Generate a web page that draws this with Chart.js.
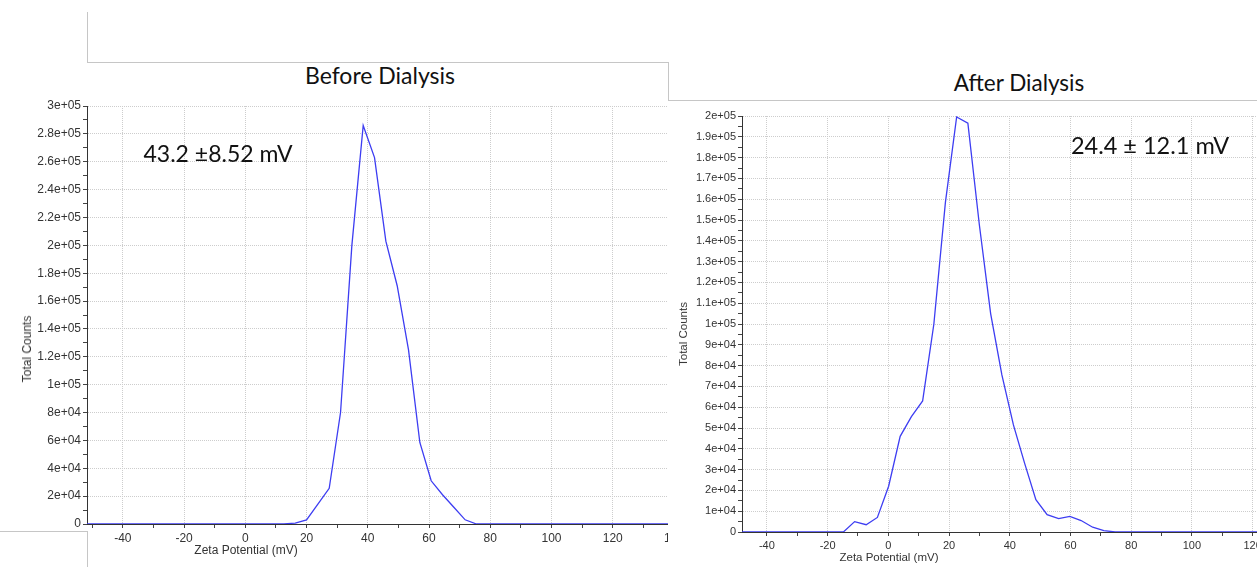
<!DOCTYPE html>
<html>
<head>
<meta charset="utf-8">
<script src="https://cdn.jsdelivr.net/npm/chart.js@4.4.1/dist/chart.umd.min.js"></script>
<style>
  html, body { margin: 0; padding: 0; background: #fff; }
  body { position: relative; width: 1257px; height: 567px; overflow: hidden; font-family: 'Liberation Sans', Arial, sans-serif; }
  .wrap { position: absolute; overflow: hidden; }
  canvas { position: absolute; }
  .rule { position: absolute; background: #c6c6c6; }
  .big { position: absolute; font-family: Lato, 'Open Sans', sans-serif; color: #111; white-space: nowrap; transform: translate(-50%, -50%); }
  .axis-title { position: absolute; color: #333; white-space: nowrap; transform: translate(-50%, -50%); }
  .axis-title.vert { transform: translate(-50%, -50%) rotate(-90deg); }
</style>
</head>
<body>

<!-- frame lines around the two pasted plots -->
<div class="rule" style="left:87px; top:12px; width:1px; height:51px;"></div>
<div class="rule" style="left:87px; top:62px; width:581px; height:1px;"></div>
<div class="rule" style="left:668px; top:62px; width:1px; height:39px;"></div>
<div class="rule" style="left:668px; top:100px; width:589px; height:1px;"></div>
<div class="rule" style="left:0px; top:531px; width:88px; height:1px;"></div>
<div class="rule" style="left:87px; top:531px; width:1px; height:36px;"></div>

<div class="wrap" style="left:0; top:0; width:668px; height:567px;">
  <canvas id="beforeChart" width="700" height="477" style="left:0; top:90px;"></canvas>
</div>
<canvas id="afterChart" width="620" height="467" style="left:668px; top:100px;"></canvas>

<div class="big" style="left:380px; top:75px; font-size:23px;">Before Dialysis</div>
<div class="big" style="left:1019px; top:82px; font-size:22.5px;">After Dialysis</div>
<div class="big" style="left:218px; top:153px; font-size:23px;">43.2 ±8.52 mV</div>
<div class="big" style="left:1150px; top:145px; font-size:23.5px;">24.4 ± 12.1 mV</div>

<div class="axis-title vert" style="left:27px; top:349px; font-size:12px;">Total Counts</div>
<div class="axis-title" style="left:246px; top:550px; font-size:12px;">Zeta Potential (mV)</div>
<div class="axis-title vert" style="left:683px; top:334px; font-size:11.5px;">Total Counts</div>
<div class="axis-title" style="left:889px; top:557px; font-size:11.5px;">Zeta Potential (mV)</div>

<script>
// Before dialysis: zeta potential (mV) vs total counts
const beforeMv = [-51.7, 12.6, 16.3, 20.0, 23.7, 27.4, 31.1, 34.8, 38.5, 42.2, 45.9, 49.6, 53.3, 57.0, 60.7, 64.4, 68.1, 71.8, 75.5, 140];
const beforeCounts = [0, 0, 700, 3000, 14300, 25600, 80000, 200000, 286000, 263000, 203000, 171000, 125000, 58500, 31000, 21000, 12000, 3000, 0, 0];

// After dialysis
const afterMv = [-48.2, -14.8, -11.1, -7.3, -3.6, 0.1, 3.9, 7.6, 11.3, 15.0, 18.8, 22.5, 26.2, 30.0, 33.7, 37.4, 41.2, 44.9, 48.6, 52.3, 56.1, 59.8, 63.5, 67.3, 71.0, 74.7, 130];
const afterCounts = [0, 0, 5000, 3500, 7000, 22000, 46000, 55500, 63000, 100000, 158500, 199500, 196500, 147500, 105000, 75500, 51500, 33000, 15500, 8300, 6400, 7500, 5500, 2300, 700, 0, 0];

const lineColor = '#3d3df2';
const gridColor = '#cdcdcd';
const tickText = '#333';

function sci(v) {
    if (v === 0) return '0';
    return v.toExponential().replace(/e\+(\d)$/, (m, d) => 'e+0' + d);
}

function drawPlot(id, xs, ys, cfg) {
    const points = xs.map((x, i) => ({ x: x, y: ys[i] }));
    const tickFont = { family: "'Liberation Sans', Arial, sans-serif", size: cfg.fontSize };
    return new Chart(document.getElementById(id), {
        type: 'line',
        data: {
            datasets: [{
                data: points,
                borderColor: lineColor,
                borderWidth: 1.3,
                pointRadius: 0,
                tension: 0,
                fill: false
            }]
        },
        options: {
            responsive: false,
            animation: false,
            layout: { padding: { top: cfg.padTop, right: cfg.padRight, left: 0, bottom: 0 } },
            plugins: { legend: { display: false }, tooltip: { enabled: false } },
            scales: {
                x: {
                    type: 'linear',
                    min: cfg.xMin,
                    max: cfg.xMax,
                    afterFit: s => { s.height = cfg.xAxisHeight; },
                    border: { color: '#333', width: 1, dash: [1, 1] },
                    grid: {
                        color: c => (c.tick && c.tick.value % 20 === 0) ? gridColor : 'rgba(0,0,0,0)',
                        tickColor: '#444',
                        tickLength: 4
                    },
                    ticks: {
                        stepSize: 10,
                        includeBounds: false,
                        autoSkip: false,
                        maxRotation: 0,
                        padding: 3,
                        color: tickText,
                        font: tickFont,
                        callback: v => (v % 20 === 0 ? String(v) : '')
                    }
                },
                y: {
                    min: 0,
                    max: cfg.yMax,
                    afterFit: s => { s.width = cfg.yAxisWidth; },
                    border: { color: '#333', width: 1, dash: [1, 1] },
                    grid: {
                        color: c => (c.tick && Math.round(c.tick.value / cfg.yMinor) % cfg.yEvery === 0) ? gridColor : 'rgba(0,0,0,0)',
                        tickColor: '#444',
                        tickLength: 4
                    },
                    ticks: {
                        stepSize: cfg.yMinor,
                        autoSkip: false,
                        padding: 2,
                        color: tickText,
                        font: tickFont,
                        callback: v => (Math.round(v / cfg.yMinor) % cfg.yEvery === 0 ? sci(v) : '')
                    }
                }
            }
        }
    });
}

drawPlot('beforeChart', beforeMv, beforeCounts, {
    xMin: -51.7, xMax: 140, yMax: 300000, yMinor: 10000, yEvery: 2,
    padTop: 16, padRight: 26, xAxisHeight: 43, yAxisWidth: 87, fontSize: 12
});

drawPlot('afterChart', afterMv, afterCounts, {
    xMin: -48.2, xMax: 130, yMax: 200000, yMinor: 5000, yEvery: 2,
    padTop: 16, padRight: 5, xAxisHeight: 35, yAxisWidth: 74, fontSize: 11
});
</script>
</body>
</html>
